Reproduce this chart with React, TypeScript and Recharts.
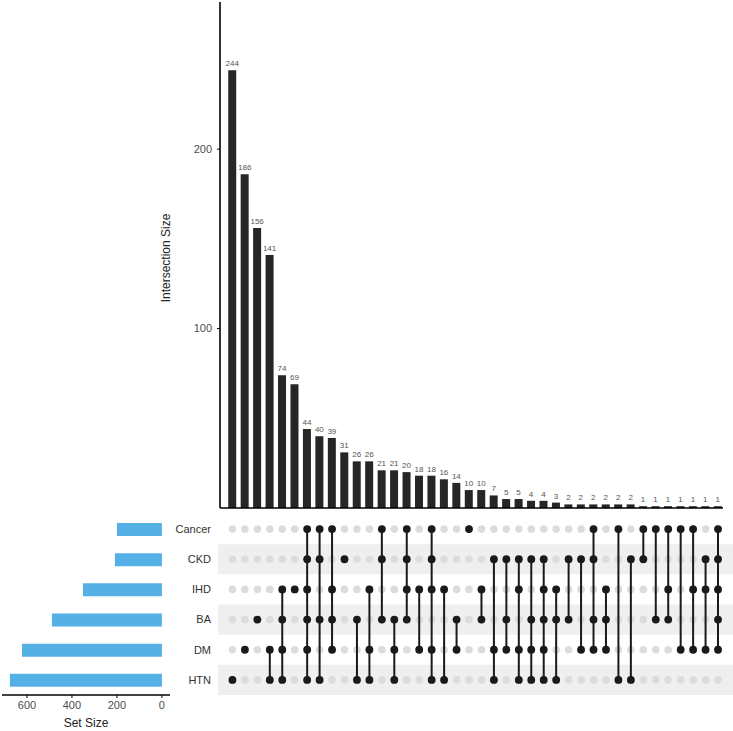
import React from 'react';
import {
  BarChart, Bar, XAxis, YAxis, LabelList, ScatterChart, Scatter, ReferenceArea,
} from 'recharts';

const intersectionSizes = [244, 186, 156, 141, 74, 69, 44, 40, 39, 31, 26, 26, 21, 21, 20, 18, 18, 16, 14, 10, 10, 7, 5, 5, 4, 4, 3, 2, 2, 2, 2, 2, 2, 1, 1, 1, 1, 1, 1, 1];
const setNames = ['Cancer', 'CKD', 'IHD', 'BA', 'DM', 'HTN'];
const setSizes = [200, 209, 351, 489, 622, 676];
const memberships: string[][] = [
  ['HTN'],
  ['DM'],
  ['BA'],
  ['DM', 'HTN'],
  ['IHD', 'BA', 'DM', 'HTN'],
  ['IHD'],
  ['Cancer', 'CKD', 'IHD', 'BA', 'DM', 'HTN'],
  ['Cancer', 'CKD', 'BA', 'HTN'],
  ['Cancer', 'IHD', 'BA', 'DM'],
  ['CKD'],
  ['BA', 'HTN'],
  ['IHD', 'DM', 'HTN'],
  ['Cancer', 'CKD', 'BA'],
  ['BA', 'DM', 'HTN'],
  ['Cancer', 'CKD', 'IHD', 'BA'],
  ['IHD', 'DM'],
  ['Cancer', 'CKD', 'IHD', 'DM', 'HTN'],
  ['IHD', 'HTN'],
  ['BA', 'DM'],
  ['Cancer'],
  ['IHD', 'BA'],
  ['CKD', 'DM', 'HTN'],
  ['CKD', 'BA', 'DM'],
  ['CKD', 'IHD', 'DM', 'HTN'],
  ['CKD', 'BA', 'DM', 'HTN'],
  ['CKD', 'IHD', 'BA', 'DM', 'HTN'],
  ['IHD', 'BA', 'HTN'],
  ['CKD', 'BA'],
  ['CKD', 'DM'],
  ['Cancer', 'CKD', 'BA', 'DM'],
  ['IHD', 'BA', 'DM'],
  ['Cancer', 'HTN'],
  ['CKD', 'HTN'],
  ['Cancer', 'CKD'],
  ['Cancer', 'BA'],
  ['Cancer', 'IHD', 'BA'],
  ['Cancer', 'DM'],
  ['Cancer', 'IHD', 'DM'],
  ['CKD', 'IHD', 'DM'],
  ['Cancer', 'CKD', 'IHD', 'BA', 'DM'],
];
const intersectionTicks = [0, 100, 200];
const setSizeTicks = [0, 200, 400, 600];

const FONT = '"Liberation Sans", Arial, sans-serif';

const barData = intersectionSizes.map((v, i) => ({ idx: i + 1, value: v }));
const setData = setNames.map((n, i) => ({ name: n, size: setSizes[i] }));
const greyDots: { x: number; y: number }[] = [];
intersectionSizes.forEach((_, i) => {
  setNames.forEach((_, r) => greyDots.push({ x: i + 1, y: r }));
});
const columnDots = memberships.map((m, i) =>
  m.map((s) => ({ x: i + 1, y: setNames.indexOf(s) })).sort((a, b) => a.y - b.y)
);

const GreyDot = (p: any) => <circle cx={p.cx} cy={p.cy} r={3.8} fill="#dcdcdc" />;
const BlackDot = (p: any) => <circle cx={p.cx} cy={p.cy} r={3.9} fill="#1a1a1a" />;

const YLabel = (props: any) => {
  const vb = props.viewBox || {};
  const x = vb.x + vb.width - 50;
  const y = vb.y + vb.height / 2 + 3;
  return (
    <text x={x} y={y} transform={`rotate(-90 ${x} ${y})`} textAnchor="middle" fontSize={12} fill="#222" fontFamily={FONT}>
      Intersection Size
    </text>
  );
};

export default function App() {
  return (
    <div style={{ position: 'absolute', left: 0, top: 0, width: 733, height: 731, background: '#fff', fontFamily: FONT }}>
      <div style={{ position: 'absolute', left: 0, top: 0 }}>
        <BarChart width={733} height={510} data={barData} margin={{ top: 2, right: 10, bottom: 0, left: 0 }}>
          <XAxis
            dataKey="idx" type="number" domain={[0, 40.4]} allowDataOverflow
            tick={false} tickLine={false} height={2}
            axisLine={{ stroke: '#000', strokeWidth: 1.6 }}
          />
          <YAxis
            type="number" domain={[0, 282]} ticks={intersectionTicks} width={220}
            tickSize={3} tickMargin={5}
            tick={{ fontSize: 11, fill: '#4d4d4d', fontFamily: FONT }}
            tickLine={{ stroke: '#000' }}
            axisLine={{ stroke: '#000', strokeWidth: 1.6 }}
            label={{ content: YLabel }}
          />
          <Bar dataKey="value" fill="#262626" barSize={8} isAnimationActive={false}>
            <LabelList dataKey="value" position="top" offset={4} fontSize={8} fill="#555" fontFamily={FONT} />
          </Bar>
        </BarChart>
      </div>

      <div style={{ position: 'absolute', left: 0, top: 514 }}>
        <ScatterChart width={733} height={181} margin={{ top: 0, right: 10, bottom: 0, left: 0 }}>
          <XAxis dataKey="x" type="number" domain={[0, 40.4]} hide allowDataOverflow />
          <YAxis
            dataKey="y" type="number" domain={[-0.5, 5.5]} reversed width={220}
            ticks={[0, 1, 2, 3, 4, 5]} tickFormatter={(v: number) => setNames[v]}
            axisLine={false} tickLine={false} tickSize={0} tickMargin={9}
            tick={{ fontSize: 11, fill: '#333', fontFamily: FONT }}
            allowDataOverflow
          />
          {[1, 3, 5].map((r) => (
            <ReferenceArea key={r} x1={-0.15} x2={41.2} y1={r - 0.5} y2={r + 0.5} fill="#efefef" fillOpacity={1} stroke="none" ifOverflow="visible" />
          ))}
          <Scatter data={greyDots} shape={GreyDot} isAnimationActive={false} />
          {columnDots.map((d, i) => (
            <Scatter
              key={i} data={d} shape={BlackDot} isAnimationActive={false}
              line={d.length > 1 ? { stroke: '#1a1a1a', strokeWidth: 2 } : false}
              lineType="joint"
            />
          ))}
        </ScatterChart>
      </div>

      <div style={{ position: 'absolute', left: 0, top: 514 }}>
        <BarChart width={220} height={217} data={setData} layout="vertical" margin={{ top: 0, right: 50, bottom: 0, left: 2 }}>
          <XAxis
            type="number" domain={[-36, 711]} reversed ticks={setSizeTicks} allowDataOverflow
            height={36} tickSize={3} tickMargin={3}
            tick={{ fontSize: 11, fill: '#4d4d4d', fontFamily: FONT }}
            tickLine={{ stroke: '#000' }}
            axisLine={{ stroke: '#000', strokeWidth: 1.6 }}
            label={{ value: 'Set Size', position: 'insideBottom', offset: 4, fontSize: 12, fill: '#222', fontFamily: FONT }}
          />
          <YAxis type="category" dataKey="name" hide />
          <Bar dataKey="size" fill="#55b0e6" barSize={13} isAnimationActive={false} />
        </BarChart>
      </div>
    </div>
  );
}
